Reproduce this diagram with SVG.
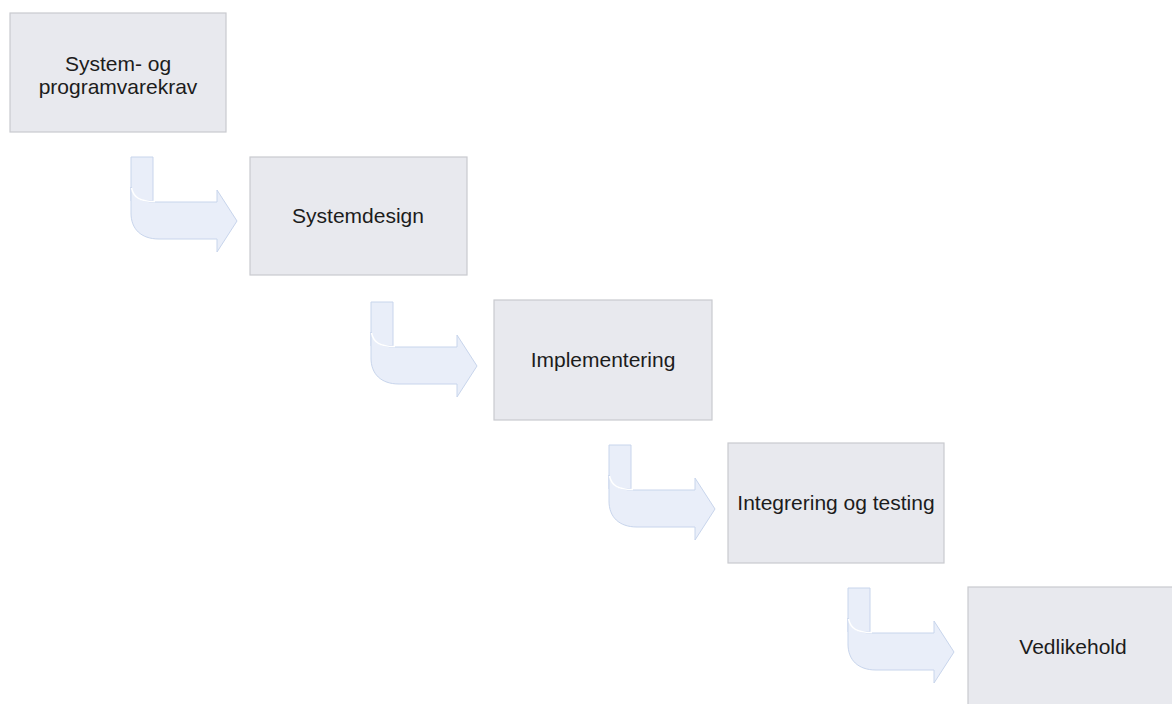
<svg xmlns="http://www.w3.org/2000/svg" width="1172" height="704" viewBox="0 0 1172 704">
<style>
.box{fill:#e8e9ee;stroke:#c9cacf;stroke-width:1.2}
.lbl{font-family:"Liberation Sans",Arial,sans-serif;font-size:21px;fill:#1c1c1c;text-anchor:middle}
.ar{fill:#e9eef9;stroke:#c8d5ec;stroke-width:1}
.hl{fill:none;stroke:#ffffff;stroke-width:1.5}
</style>
<defs>
<g id="bent">
<path class="ar" d="M0,0 L22,0 L22,44 L0,44 Z"/>
<path class="ar" d="M0,30 C2,40 9,45 24,45 L86,45 L86,33 L106,64 L86,95 L86,82 L28,82 C10,82 0,72 0,56 Z"/>
<path class="hl" d="M0.5,31 C2.5,40.5 9,44.5 24,44.5"/>
</g>
</defs>
<rect width="1172" height="704" fill="#ffffff"/>
<g id="connectors">
<use href="#bent" transform="translate(131,157)"/>
<use href="#bent" transform="translate(371,302)"/>
<use href="#bent" transform="translate(609,445)"/>
<use href="#bent" transform="translate(848,588)"/>
</g>
<g id="n1">
<rect class="box" x="10" y="13" width="216" height="119"/>
<text class="lbl" x="118" y="71">System- og</text>
<text class="lbl" x="118" y="94">programvarekrav</text>
</g>
<g id="n2">
<rect class="box" x="250" y="157" width="217" height="118"/>
<text class="lbl" x="358" y="223">Systemdesign</text>
</g>
<g id="n3">
<rect class="box" x="494" y="300" width="218" height="120"/>
<text class="lbl" x="603" y="367">Implementering</text>
</g>
<g id="n4">
<rect class="box" x="728" y="443" width="216" height="120"/>
<text class="lbl" x="836" y="510">Integrering og testing</text>
</g>
<g id="n5">
<rect class="box" x="968" y="587" width="212" height="122"/>
<text class="lbl" x="1073" y="654">Vedlikehold</text>
</g>
</svg>
